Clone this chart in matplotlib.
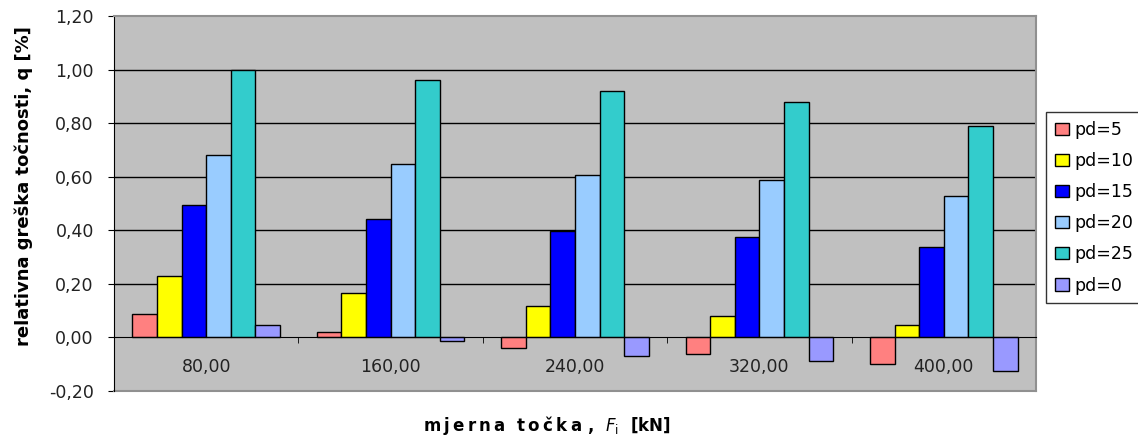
import matplotlib.pyplot as plt
import numpy as np
from matplotlib.ticker import FuncFormatter

# Mjerne točke i relativne greške po seriji
tocke = ["80,00", "160,00", "240,00", "320,00", "400,00"]
serije = ["pd=5", "pd=10", "pd=15", "pd=20", "pd=25", "pd=0"]
pd5 = [0.086, 0.019, -0.039, -0.060, -0.099]
pd10 = [0.228, 0.166, 0.116, 0.081, 0.048]
pd15 = [0.494, 0.443, 0.398, 0.375, 0.336]
pd20 = [0.680, 0.647, 0.608, 0.588, 0.528]
pd25 = [1.000, 0.960, 0.919, 0.879, 0.789]
pd0 = [0.048, -0.014, -0.071, -0.089, -0.127]
boje = ['#FF8080', '#FFFF00', '#0000FF', '#99CCFF', '#33CCCC', '#9999FF']

vrijednosti = [pd5, pd10, pd15, pd20, pd25, pd0]

fig = plt.figure(figsize=(11.38, 4.4), dpi=100)
ax = fig.add_axes([114/1138, 49/440, 922/1138, 375/440])
ax.set_facecolor('#C0C0C0')

x = np.arange(len(tocke))
n = len(serije)
sirina = 1.0 / (n + 1.5)
for i, (ime, vals, c) in enumerate(zip(serije, vrijednosti, boje)):
    pomak = (i - (n - 1) / 2) * sirina
    ax.bar(x + pomak, vals, sirina, color=c, edgecolor='black', linewidth=1.0,
           label=ime, zorder=3)

ax.set_xlim(-0.5, len(tocke) - 0.5)
ax.set_ylim(-0.2, 1.2)
yt = np.arange(-0.2, 1.21, 0.2)
ax.set_yticks(yt)
ax.yaxis.set_major_formatter(FuncFormatter(lambda v, p: f"{v:.2f}".replace('.', ',')))
for v in yt[2:-1]:
    ax.axhline(v, color='black', linewidth=1.0, zorder=1)

# okvir površine crteža
for s in ['top', 'right']:
    ax.spines[s].set_color('#909090')
    ax.spines[s].set_linewidth(1.5)
ax.spines['left'].set_color('black')
ax.spines['bottom'].set_position(('data', 0))
ax.spines['bottom'].set_color('black')
ax.spines['bottom'].set_zorder(4)
ax.plot([0, 1], [0, 0], transform=ax.transAxes, color='#909090', linewidth=1.5,
        clip_on=False, zorder=2)

ax.set_xticks(x)
ax.set_xticklabels(tocke)
ax.set_xticks(np.arange(-0.5, len(tocke), 1.0), minor=True)
ax.tick_params(axis='x', which='major', length=0, pad=15, labelsize=12.5, labelcolor='#222222')
ax.tick_params(axis='x', which='minor', length=4.5, direction='out', color='black')
ax.tick_params(axis='y', length=4.5, direction='out', pad=10, labelsize=12.5, labelcolor='#222222')

fig.text(0.021, 0.576, "relativna greška točnosti, q [%]", rotation=90,
         ha='center', va='center', fontsize=13, fontweight='bold', family='DejaVu Sans')
# razmaknuta slova u naslovu osi x
naslov_x = "\u2009".join("mjerna") + "  " + "\u2009".join("točka") + " ,  "
fig.text(547/1138, 1 - 425/440, naslov_x + r"$\mathbf{\mathit{F}}_\mathrm{i}$  [kN]",
         ha='center', va='center', fontsize=12, fontweight='bold', family='DejaVu Sans')

leg = fig.legend(loc='upper left', bbox_to_anchor=(1046/1138, 1 - 112/440),
                 fontsize=12.5, frameon=True, fancybox=False, edgecolor='black',
                 handlelength=0.8, handleheight=0.7, handletextpad=0.35,
                 labelspacing=0.76, borderpad=0.5, borderaxespad=0)
leg.get_frame().set_linewidth(1.0)

fig.savefig('out.png', dpi=100)
